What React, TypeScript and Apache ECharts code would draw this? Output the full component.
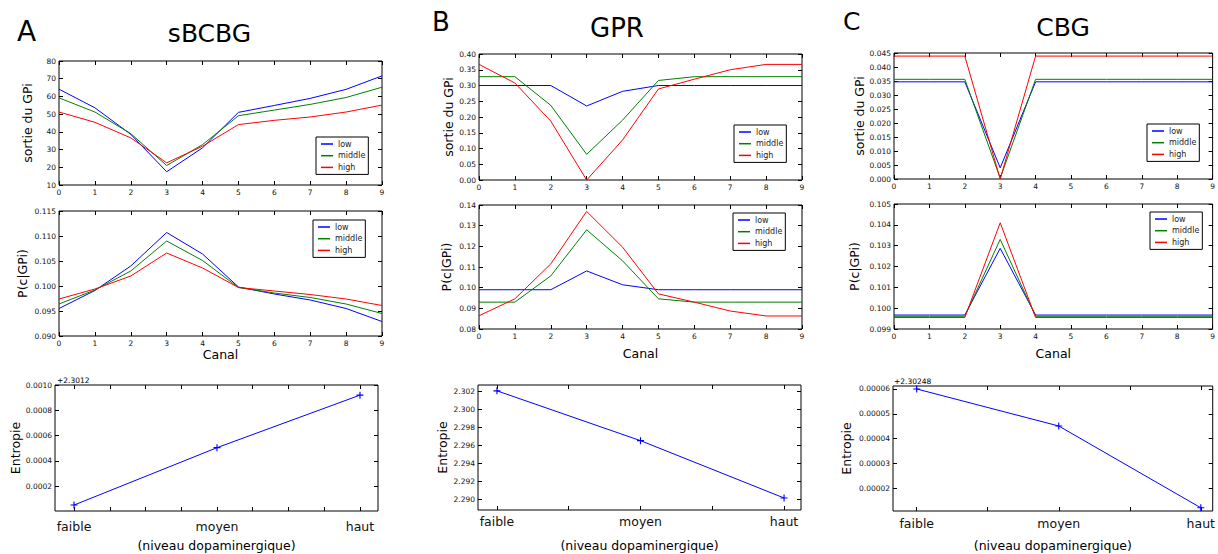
import React, { useEffect, useRef } from "react";
import * as echarts from "echarts";

// ---------------- data ----------------
const channels = [0, 1, 2, 3, 4, 5, 6, 7, 8, 9];
const groupNames = ["low", "middle", "high"];
const groupColors = ["#0000ff", "#008000", "#ff0000"];
const levels = ["faible", "moyen", "haut"];
const levelPositions = [0, 1, 2];

// A - sBCBG
const sbcbgOutLow = [64.1, 53.6, 38.6, 17.5, 31.0, 51.0, 54.9, 58.9, 64.0, 71.6];
const sbcbgOutMiddle = [59.2, 51.2, 39.0, 21.0, 32.8, 49.1, 52.3, 55.5, 59.4, 65.2];
const sbcbgOutHigh = [51.2, 45.4, 36.6, 22.5, 31.9, 44.1, 46.5, 48.4, 51.2, 55.1];
const sbcbgPLow = [0.0955, 0.0991, 0.104, 0.1107, 0.1064, 0.0998, 0.0984, 0.0972, 0.0955, 0.0929];
const sbcbgPMiddle = [0.0964, 0.0992, 0.103, 0.109, 0.1051, 0.0997, 0.0986, 0.0977, 0.0964, 0.0945];
const sbcbgPHigh = [0.0974, 0.0994, 0.102, 0.1066, 0.1036, 0.0997, 0.099, 0.0983, 0.0974, 0.0961];
const sbcbgEntropy = [2.301252, 2.301705, 2.30212];
const sbcbgEntropyOffset = 2.3012;

// B - GPR
const gprOutLow = [0.3, 0.3, 0.3, 0.235, 0.2815, 0.3, 0.3, 0.3, 0.3, 0.3];
const gprOutMiddle = [0.328, 0.328, 0.237, 0.0815, 0.19, 0.316, 0.328, 0.328, 0.328, 0.328];
const gprOutHigh = [0.367, 0.308, 0.187, 0.0, 0.127, 0.289, 0.32, 0.35, 0.367, 0.367];
const gprPLow = [0.099, 0.099, 0.099, 0.1081, 0.1014, 0.099, 0.099, 0.099, 0.099, 0.099];
const gprPMiddle = [0.093, 0.093, 0.1057, 0.128, 0.113, 0.0946, 0.093, 0.093, 0.093, 0.093];
const gprPHigh = [0.0864, 0.0946, 0.1115, 0.1369, 0.1196, 0.097, 0.093, 0.0887, 0.0863, 0.0863];
const gprEntropy = [2.3021, 2.29654, 2.29014];
const gprEntropyOffset = 0;

// C - CBG
const cbgOutLow = [0.0347, 0.0347, 0.0347, 0.004, 0.0347, 0.0347, 0.0347, 0.0347, 0.0347, 0.0347];
const cbgOutMiddle = [0.0356, 0.0356, 0.0356, 0.0003, 0.0356, 0.0356, 0.0356, 0.0356, 0.0356, 0.0356];
const cbgOutHigh = [0.0439, 0.0439, 0.0439, 0.0, 0.0439, 0.0439, 0.0439, 0.0439, 0.0439, 0.0439];
const cbgPLow = [0.09967, 0.09967, 0.09967, 0.10287, 0.09967, 0.09967, 0.09967, 0.09967, 0.09967, 0.09967];
const cbgPMiddle = [0.09961, 0.09961, 0.09961, 0.1033, 0.09961, 0.09961, 0.09961, 0.09961, 0.09961, 0.09961];
const cbgPHigh = [0.09955, 0.09955, 0.09955, 0.1041, 0.09955, 0.09955, 0.09955, 0.09955, 0.09955, 0.09955];
const cbgEntropy = [2.30254, 2.3025251, 2.3024922];
const cbgEntropyOffset = 2.30248;

// tick values
const sbcbgOutTicks = [10, 20, 30, 40, 50, 60, 70, 80];
const sbcbgPTicks = [0.09, 0.095, 0.1, 0.105, 0.11, 0.115];
const sbcbgEntTicks = [0.0002, 0.0004, 0.0006, 0.0008, 0.001];
const gprOutTicks = [0, 0.05, 0.1, 0.15, 0.2, 0.25, 0.3, 0.35, 0.4];
const gprPTicks = [0.08, 0.09, 0.1, 0.11, 0.12, 0.13, 0.14];
const gprEntTicks = [2.29, 2.292, 2.294, 2.296, 2.298, 2.3, 2.302];
const cbgOutTicks = [0, 0.005, 0.01, 0.015, 0.02, 0.025, 0.03, 0.035, 0.04, 0.045];
const cbgPTicks = [0.099, 0.1, 0.101, 0.102, 0.103, 0.104, 0.105];
const cbgEntTicks = [0.00002, 0.00003, 0.00004, 0.00005, 0.00006];
const levelTicksFine = [0, 0.25, 0.5, 0.75, 1, 1.25, 1.5, 1.75, 2];
const levelTicksCoarse = [0, 0.5, 1, 1.5, 2];

// ---------------- styling / layout ----------------
const FONT = "DejaVu Sans";
const TICK_FS = 7.5;
const NAME_FS = 12.5;

type AxisCfg = {
  min: number;
  max: number;
  ticks: number[];
  labels: number[];
  fmt: (v: number) => string;
  margin: number;
  labelSize?: number;
  name?: string;
  nameGap?: number;
};

const chanAxis = (name?: string, nameGap?: number): AxisCfg => ({
  min: 0,
  max: 9,
  ticks: channels,
  labels: channels,
  fmt: (v) => String(Math.round(v)),
  margin: 3,
  name,
  nameGap,
});

const levelAxis = (min: number, max: number, ticks: number[], margin: number, nameGap: number): AxisCfg => ({
  min,
  max,
  ticks,
  labels: levelPositions,
  fmt: (v) => levels[Math.round(v)],
  margin,
  labelSize: NAME_FS,
  name: "(niveau dopaminergique)",
  nameGap,
});

const yCfg = (min: number, max: number, ticks: number[], dec: number, name: string, nameGap: number): AxisCfg => ({
  min,
  max,
  ticks,
  labels: ticks,
  fmt: (v) => v.toFixed(dec),
  margin: 3,
  name,
  nameGap,
});

type Panel = {
  box: [number, number, number, number];
  x: AxisCfg;
  y: AxisCfg;
  lines?: number[][];
  legend?: [number, number];
  entropy?: { values: number[]; offset: number };
};

const panels: Panel[] = [
  {
    box: [59, 61, 323, 124],
    x: chanAxis(),
    y: yCfg(10, 80, sbcbgOutTicks, 0, "sortie du GPi", 25),
    lines: [sbcbgOutLow, sbcbgOutMiddle, sbcbgOutHigh],
    legend: [316, 137],
  },
  {
    box: [59, 211, 323, 125],
    x: chanAxis("Canal", 11),
    y: yCfg(0.09, 0.115, sbcbgPTicks, 3, "P(c|GPi)", 30),
    lines: [sbcbgPLow, sbcbgPMiddle, sbcbgPHigh],
    legend: [313, 220],
  },
  {
    box: [55, 385, 323, 126],
    x: levelAxis(-0.133, 2.126, levelTicksFine, 8.5, 27.5),
    y: yCfg(0.000005, 0.001, sbcbgEntTicks, 4, "Entropie", 32.5),
    entropy: { values: sbcbgEntropy, offset: sbcbgEntropyOffset },
  },
  {
    box: [479, 54, 323, 126],
    x: chanAxis(),
    y: yCfg(0, 0.4, gprOutTicks, 2, "sortie du GPi", 22),
    lines: [gprOutLow, gprOutMiddle, gprOutHigh],
    legend: [734, 125],
  },
  {
    box: [479, 205, 323, 124],
    x: chanAxis("Canal", 17.5),
    y: yCfg(0.08, 0.14, gprPTicks, 2, "P(c|GPi)", 26),
    lines: [gprPLow, gprPMiddle, gprPHigh],
    legend: [733, 213],
  },
  {
    box: [478, 385, 323, 125],
    x: levelAxis(-0.132, 2.118, levelTicksCoarse, 4.5, 28.5),
    y: yCfg(2.2888, 2.30275, gprEntTicks, 3, "Entropie", 29),
    entropy: { values: gprEntropy, offset: gprEntropyOffset },
  },
  {
    box: [894, 53, 321, 126],
    x: chanAxis(),
    y: yCfg(0, 0.045, cbgOutTicks, 3, "sortie du GPi", 28),
    lines: [cbgOutLow, cbgOutMiddle, cbgOutHigh],
    legend: [1147, 124],
  },
  {
    box: [894, 204, 321, 125],
    x: chanAxis("Canal", 17.5),
    y: yCfg(0.099, 0.105, cbgPTicks, 3, "P(c|GPi)", 33),
    lines: [cbgPLow, cbgPMiddle, cbgPHigh],
    legend: [1150, 212],
  },
  {
    box: [893, 386, 323, 125],
    x: levelAxis(-0.167, 2.084, levelTicksCoarse, 6, 27.5),
    y: yCfg(0.0000109, 0.0000612, cbgEntTicks, 5, "Entropie", 40.5),
    entropy: { values: cbgEntropy, offset: cbgEntropyOffset },
  },
];

const PLUS = "path://M0,4.2H10V5.8H0Z M4.2,0H5.8V10H4.2Z";

function makeAxis(c: AxisCfg, gridIndex: number, position: string, withLabels: boolean) {
  return {
    type: "value",
    gridIndex,
    position,
    min: c.min,
    max: c.max,
    axisLine: { show: false, onZero: false },
    splitLine: { show: false },
    axisTick: {
      show: true,
      inside: true,
      length: 4,
      customValues: c.ticks,
      lineStyle: { color: "#000", width: 1 },
    },
    axisLabel: withLabels
      ? {
          show: true,
          customValues: c.labels,
          formatter: (v: number) => c.fmt(v),
          margin: c.margin,
          fontSize: c.labelSize ?? TICK_FS,
          fontFamily: FONT,
          color: "#111",
          hideOverlap: false,
        }
      : { show: false },
    name: withLabels ? c.name : undefined,
    nameLocation: "middle",
    nameGap: c.nameGap,
    nameTextStyle: { fontSize: NAME_FS, fontFamily: FONT, color: "#000" },
  };
}

function buildOption() {
  const grid: any[] = [];
  const xAxis: any[] = [];
  const yAxis: any[] = [];
  const series: any[] = [];
  const legend: any[] = [];

  panels.forEach((p, i) => {
    grid.push({
      left: p.box[0],
      top: p.box[1],
      width: p.box[2],
      height: p.box[3],
      show: true,
      borderColor: "#000",
      borderWidth: 1,
      backgroundColor: "transparent",
    });
    xAxis.push(makeAxis(p.x, i, "bottom", true));
    xAxis.push(makeAxis(p.x, i, "top", false));
    yAxis.push(makeAxis(p.y, i, "left", true));
    yAxis.push(makeAxis(p.y, i, "right", false));

    if (p.lines) {
      p.lines.forEach((vals, g) => {
        series.push({
          type: "line",
          name: groupNames[g],
          xAxisIndex: 2 * i,
          yAxisIndex: 2 * i,
          data: channels.map((c, k) => [c, vals[k]]),
          symbol: "none",
          showSymbol: false,
          lineStyle: { width: 1, color: groupColors[g] },
          itemStyle: { color: groupColors[g] },
          silent: true,
        });
      });
    }
    if (p.entropy) {
      const e = p.entropy;
      series.push({
        type: "line",
        name: "entropie",
        xAxisIndex: 2 * i,
        yAxisIndex: 2 * i,
        data: levelPositions.map((lv, k) => [lv, e.values[k] - e.offset]),
        symbol: PLUS,
        symbolSize: 7,
        showSymbol: true,
        lineStyle: { width: 1, color: "#0000ff" },
        itemStyle: { color: "#0000ff" },
        silent: true,
      });
    }
    if (p.legend) {
      legend.push({
        left: p.legend[0],
        top: p.legend[1],
        orient: "vertical",
        data: groupNames,
        icon: "rect",
        itemWidth: 12,
        itemHeight: 1.5,
        itemGap: 1.7,
        itemTextGap: 9,
        padding: [2, 3, 2, 5],
        borderColor: "#000",
        borderWidth: 1,
        borderRadius: 0,
        backgroundColor: "#fff",
        selectedMode: false,
        textStyle: { fontSize: 8, fontFamily: FONT, color: "#222", lineHeight: 10 },
      });
    }
  });

  const txt = (text: string, x: number, y: number, size: number, align = "left") => ({
    type: "text",
    x,
    y,
    style: {
      text,
      fontSize: size,
      fontFamily: FONT,
      fill: "#000",
      align,
      verticalAlign: "middle",
    },
  });

  const graphic = [
    txt("A", 17, 31.5, 28),
    txt("sBCBG", 209.5, 33.8, 25, "center"),
    txt("B", 432, 21.5, 26),
    txt("GPR", 617, 27.5, 26, "center"),
    txt("C", 843, 21, 25),
    txt("CBG", 1063, 27.5, 25, "center"),
    txt("+" + sbcbgEntropyOffset, 57, 380, TICK_FS),
    txt("+" + cbgEntropyOffset, 894, 381, TICK_FS),
  ];

  return {
    animation: false,
    backgroundColor: "#fff",
    textStyle: { fontFamily: FONT },
    grid,
    xAxis,
    yAxis,
    series,
    legend,
    graphic,
  };
}

export default function App() {
  const ref = useRef<HTMLDivElement>(null);
  useEffect(() => {
    if (!ref.current) return;
    const chart = echarts.init(ref.current, undefined, { renderer: "svg" });
    chart.setOption(buildOption() as any);
    return () => chart.dispose();
  }, []);
  return (
    <div
      ref={ref}
      style={{ position: "absolute", left: 0, top: 0, width: 1218, height: 554 }}
    />
  );
}
